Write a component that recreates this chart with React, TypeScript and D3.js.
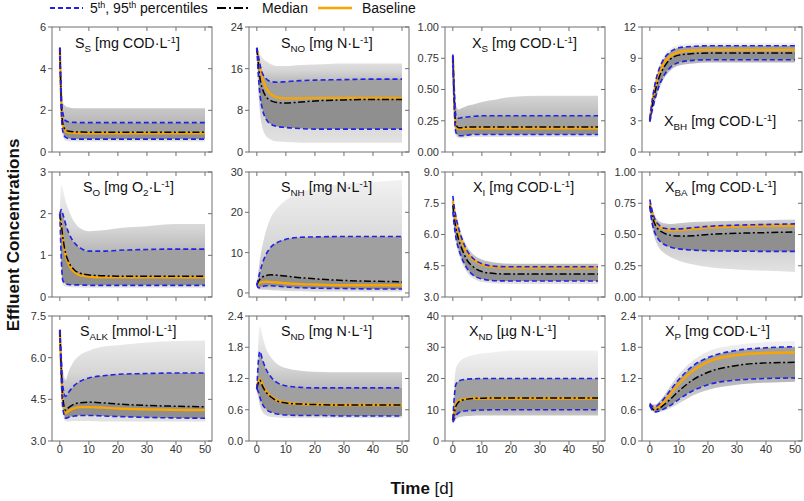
import React from 'react';
import * as d3 from 'd3';

// ---------- DATA ----------
const T = [0, 0.5, 1, 2, 3, 5, 7, 10, 15, 20, 30, 40, 50];
const X_TICKS = [0, 10, 20, 30, 40, 50];

// S_S
const SS_p95 = [5, 2.8, 1.9, 1.5, 1.45, 1.42, 1.41, 1.41, 1.41, 1.41, 1.41, 1.41, 1.41];
const SS_p5 = [5, 2.0, 1.0, 0.7, 0.65, 0.62, 0.62, 0.62, 0.62, 0.62, 0.62, 0.62, 0.62];
const SS_med = [5, 2.4, 1.4, 1.05, 1.0, 0.97, 0.96, 0.95, 0.95, 0.95, 0.95, 0.95, 0.95];
const SS_base = [5, 2.3, 1.3, 1.0, 0.95, 0.92, 0.9, 0.9, 0.9, 0.9, 0.9, 0.9, 0.9];
const SS_hi = [5, 3.2, 2.4, 2.2, 2.15, 2.1, 2.1, 2.1, 2.1, 2.1, 2.1, 2.1, 2.1];
const SS_lo = [5, 1.8, 0.8, 0.55, 0.52, 0.5, 0.5, 0.5, 0.5, 0.5, 0.5, 0.5, 0.5];

// S_NO
const SNO_p95 = [20, 18.5, 17, 15, 14.2, 13.5, 13.4, 13.5, 13.7, 13.8, 13.9, 14.0, 14.0];
const SNO_p5 = [20, 15, 11.5, 8, 6.5, 5.3, 4.9, 4.7, 4.5, 4.4, 4.4, 4.4, 4.4];
const SNO_med = [20, 17, 14.5, 12, 10.8, 9.8, 9.5, 9.4, 9.6, 9.8, 10.0, 10.1, 10.1];
const SNO_base = [20, 18, 16.5, 14, 12.5, 11, 10.5, 10.3, 10.3, 10.4, 10.4, 10.4, 10.4];
const SNO_hi = [20, 19.5, 19, 18, 17.5, 16.8, 16.5, 16.5, 16.7, 16.8, 17, 17, 17];
const SNO_lo = [20, 12, 8, 4.5, 3.2, 2.3, 2, 1.9, 1.8, 1.8, 1.8, 1.8, 1.8];

// X_S
const XS_p95 = [0.78, 0.5, 0.3, 0.27, 0.275, 0.28, 0.285, 0.29, 0.29, 0.29, 0.29, 0.29, 0.29];
const XS_p5 = [0.76, 0.35, 0.16, 0.13, 0.13, 0.135, 0.14, 0.14, 0.14, 0.14, 0.14, 0.14, 0.14];
const XS_med = [0.77, 0.42, 0.22, 0.195, 0.195, 0.2, 0.2, 0.2, 0.2, 0.2, 0.2, 0.2, 0.2];
const XS_base = [0.77, 0.4, 0.2, 0.185, 0.185, 0.19, 0.19, 0.19, 0.19, 0.19, 0.19, 0.19, 0.19];
const XS_hi = [0.8, 0.55, 0.38, 0.34, 0.35, 0.37, 0.38, 0.4, 0.42, 0.44, 0.45, 0.45, 0.45];
const XS_lo = [0.74, 0.3, 0.13, 0.11, 0.11, 0.115, 0.12, 0.12, 0.12, 0.12, 0.12, 0.12, 0.12];

// X_BH
const XBH_p95 = [3.2, 4.3, 5.3, 6.8, 7.8, 9.0, 9.6, 10.0, 10.15, 10.2, 10.2, 10.2, 10.2];
const XBH_p5 = [2.9, 3.6, 4.2, 5.3, 6.2, 7.4, 8.1, 8.6, 8.8, 8.85, 8.86, 8.86, 8.86];
const XBH_med = [3, 3.9, 4.7, 6.0, 7.0, 8.2, 8.9, 9.3, 9.45, 9.5, 9.5, 9.5, 9.5];
const XBH_base = [3, 4.1, 5.0, 6.4, 7.4, 8.6, 9.2, 9.6, 9.75, 9.8, 9.8, 9.8, 9.8];
const XBH_hi = [3.3, 4.5, 5.6, 7.1, 8.1, 9.3, 9.9, 10.3, 10.45, 10.5, 10.5, 10.5, 10.5];
const XBH_lo = [2.8, 3.4, 4.0, 5.0, 5.9, 7.1, 7.8, 8.3, 8.5, 8.6, 8.6, 8.6, 8.6];

// S_O
const SO_p95 = [2.0, 2.1, 2.0, 1.75, 1.55, 1.3, 1.18, 1.1, 1.1, 1.12, 1.14, 1.15, 1.15];
const SO_p5 = [2.0, 0.9, 0.4, 0.32, 0.3, 0.29, 0.29, 0.28, 0.28, 0.28, 0.28, 0.28, 0.28];
const SO_med = [2.0, 1.75, 1.45, 1.05, 0.85, 0.65, 0.57, 0.53, 0.51, 0.5, 0.5, 0.5, 0.5];
const SO_base = [2.0, 1.7, 1.4, 1.0, 0.8, 0.6, 0.52, 0.49, 0.47, 0.47, 0.47, 0.47, 0.47];
const SO_hi = [2.1, 2.7, 2.6, 2.3, 2.1, 1.8, 1.65, 1.58, 1.6, 1.65, 1.7, 1.75, 1.75];
const SO_lo = [1.9, 0.6, 0.3, 0.25, 0.24, 0.23, 0.23, 0.22, 0.22, 0.22, 0.22, 0.22, 0.22];

// S_NH
const SNH_p95 = [2, 3.5, 5, 7.5, 9.3, 11.5, 12.5, 13.3, 13.8, 13.9, 14.0, 14.0, 14.0];
const SNH_p5 = [2, 1.3, 1.3, 1.6, 1.8, 1.8, 1.7, 1.5, 1.3, 1.2, 1.1, 1.0, 1.0];
const SNH_med = [2, 2.8, 3.4, 4.0, 4.3, 4.5, 4.4, 4.2, 3.8, 3.5, 3.1, 2.9, 2.8];
const SNH_base = [2, 2.3, 2.5, 2.7, 2.8, 2.7, 2.6, 2.4, 2.2, 2.1, 1.9, 1.9, 1.9];
const SNH_hi = [2, 5, 8, 12, 15, 19, 21, 23, 25, 26, 27, 27.5, 28];
const SNH_lo = [2, 1.0, 0.8, 0.8, 0.8, 0.7, 0.6, 0.5, 0.4, 0.3, 0.3, 0.3, 0.3];

// X_I
const XI_p95 = [7.85, 7.3, 6.9, 6.3, 5.85, 5.2, 4.85, 4.6, 4.47, 4.45, 4.45, 4.45, 4.45];
const XI_p5 = [7.1, 6.4, 5.9, 5.3, 4.9, 4.35, 4.05, 3.87, 3.78, 3.77, 3.77, 3.77, 3.77];
const XI_med = [7.4, 6.8, 6.35, 5.75, 5.35, 4.75, 4.45, 4.22, 4.12, 4.1, 4.1, 4.1, 4.1];
const XI_base = [7.6, 7.1, 6.7, 6.1, 5.7, 5.1, 4.8, 4.55, 4.42, 4.4, 4.4, 4.4, 4.4];
const XI_hi = [7.95, 7.5, 7.1, 6.5, 6.05, 5.4, 5.05, 4.8, 4.65, 4.6, 4.6, 4.6, 4.6];
const XI_lo = [7.0, 6.2, 5.7, 5.1, 4.7, 4.15, 3.9, 3.72, 3.65, 3.63, 3.63, 3.63, 3.63];

// X_BA
const XBA_p95 = [0.78, 0.72, 0.67, 0.61, 0.58, 0.55, 0.545, 0.545, 0.555, 0.565, 0.575, 0.58, 0.585];
const XBA_p5 = [0.72, 0.63, 0.57, 0.5, 0.46, 0.42, 0.4, 0.385, 0.375, 0.37, 0.367, 0.365, 0.365];
const XBA_med = [0.73, 0.67, 0.63, 0.57, 0.54, 0.51, 0.495, 0.488, 0.49, 0.5, 0.51, 0.515, 0.52];
const XBA_base = [0.75, 0.7, 0.66, 0.6, 0.57, 0.54, 0.535, 0.535, 0.545, 0.555, 0.565, 0.57, 0.57];
const XBA_hi = [0.79, 0.74, 0.7, 0.64, 0.61, 0.59, 0.585, 0.59, 0.6, 0.605, 0.61, 0.615, 0.62];
const XBA_lo = [0.7, 0.6, 0.53, 0.45, 0.4, 0.35, 0.32, 0.29, 0.26, 0.24, 0.22, 0.21, 0.2];

// S_ALK
const SALK_p95 = [7.0, 6.0, 5.0, 4.6, 4.75, 5.0, 5.15, 5.27, 5.35, 5.4, 5.43, 5.45, 5.45];
const SALK_p5 = [7.0, 5.3, 4.2, 3.82, 3.85, 3.9, 3.92, 3.92, 3.9, 3.88, 3.85, 3.83, 3.82];
const SALK_med = [7.0, 5.6, 4.6, 4.1, 4.2, 4.33, 4.38, 4.4, 4.37, 4.33, 4.28, 4.25, 4.23];
const SALK_base = [7.0, 5.5, 4.5, 4.0, 4.08, 4.18, 4.22, 4.22, 4.2, 4.17, 4.14, 4.12, 4.11];
const SALK_hi = [7.05, 6.4, 5.6, 5.2, 5.5, 5.9, 6.1, 6.25, 6.4, 6.45, 6.55, 6.6, 6.62];
const SALK_lo = [6.95, 5.1, 4.0, 3.7, 3.7, 3.72, 3.72, 3.72, 3.7, 3.7, 3.7, 3.7, 3.7];

// S_ND
const SND_p95 = [1.0, 1.5, 1.72, 1.55, 1.4, 1.22, 1.12, 1.06, 1.03, 1.02, 1.02, 1.02, 1.02];
const SND_p5 = [1.0, 0.95, 0.85, 0.7, 0.62, 0.55, 0.52, 0.5, 0.49, 0.49, 0.48, 0.48, 0.48];
const SND_med = [1.0, 1.12, 1.17, 1.05, 0.95, 0.84, 0.77, 0.73, 0.71, 0.7, 0.69, 0.69, 0.69];
const SND_base = [1.0, 1.15, 1.19, 1.07, 0.97, 0.85, 0.78, 0.74, 0.71, 0.7, 0.69, 0.69, 0.69];
const SND_hi = [1.05, 1.9, 2.2, 2.0, 1.8, 1.6, 1.48, 1.4, 1.35, 1.33, 1.32, 1.32, 1.32];
const SND_lo = [0.95, 0.85, 0.7, 0.55, 0.5, 0.46, 0.45, 0.44, 0.44, 0.44, 0.44, 0.44, 0.44];

// X_ND
const XND_p95 = [7, 14, 18, 19.2, 19.5, 19.8, 19.9, 20, 20, 20, 20, 20, 20];
const XND_p5 = [6, 7, 8, 9, 9.4, 9.7, 9.8, 9.9, 10, 10, 10, 10, 10];
const XND_med = [6.5, 9, 11, 12.5, 13, 13.4, 13.6, 13.7, 13.8, 13.8, 13.8, 13.8, 13.8];
const XND_base = [6.5, 9.5, 11.5, 12.8, 13.2, 13.5, 13.6, 13.6, 13.6, 13.6, 13.6, 13.6, 13.6];
const XND_hi = [8, 18, 23, 25, 26, 27, 27.5, 28, 28.5, 29, 29, 29, 29];
const XND_lo = [5.5, 6, 6.8, 7.5, 7.8, 8, 8.1, 8.2, 8.2, 8.2, 8.2, 8.2, 8.2];

// X_P
const XP_p95 = [0.72, 0.68, 0.66, 0.66, 0.7, 0.82, 0.97, 1.18, 1.45, 1.6, 1.74, 1.79, 1.81];
const XP_p5 = [0.68, 0.62, 0.58, 0.56, 0.57, 0.62, 0.68, 0.8, 0.97, 1.08, 1.17, 1.2, 1.21];
const XP_med = [0.7, 0.65, 0.61, 0.6, 0.62, 0.7, 0.8, 0.96, 1.18, 1.32, 1.45, 1.5, 1.51];
const XP_base = [0.7, 0.66, 0.63, 0.62, 0.65, 0.76, 0.9, 1.1, 1.36, 1.52, 1.65, 1.69, 1.7];
const XP_hi = [0.75, 0.72, 0.7, 0.7, 0.75, 0.88, 1.05, 1.28, 1.55, 1.72, 1.85, 1.9, 1.92];
const XP_lo = [0.66, 0.6, 0.56, 0.54, 0.55, 0.58, 0.63, 0.72, 0.88, 0.98, 1.08, 1.12, 1.14];

type Part = [string, 'n' | 'sub' | 'sup'];
const TITLES: Part[][] = [
  [['S', 'n'], ['S', 'sub'], [' [mg COD·L', 'n'], ['-1', 'sup'], [']', 'n']],
  [['S', 'n'], ['NO', 'sub'], [' [mg N·L', 'n'], ['-1', 'sup'], [']', 'n']],
  [['X', 'n'], ['S', 'sub'], [' [mg COD·L', 'n'], ['-1', 'sup'], [']', 'n']],
  [['X', 'n'], ['BH', 'sub'], [' [mg COD·L', 'n'], ['-1', 'sup'], [']', 'n']],
  [['S', 'n'], ['O', 'sub'], [' [mg O', 'n'], ['2', 'sub'], ['·L', 'n'], ['-1', 'sup'], [']', 'n']],
  [['S', 'n'], ['NH', 'sub'], [' [mg N·L', 'n'], ['-1', 'sup'], [']', 'n']],
  [['X', 'n'], ['I', 'sub'], [' [mg COD·L', 'n'], ['-1', 'sup'], [']', 'n']],
  [['X', 'n'], ['BA', 'sub'], [' [mg COD·L', 'n'], ['-1', 'sup'], [']', 'n']],
  [['S', 'n'], ['ALK', 'sub'], [' [mmol·L', 'n'], ['-1', 'sup'], [']', 'n']],
  [['S', 'n'], ['ND', 'sub'], [' [mg N·L', 'n'], ['-1', 'sup'], [']', 'n']],
  [['X', 'n'], ['ND', 'sub'], [' [µg N·L', 'n'], ['-1', 'sup'], [']', 'n']],
  [['X', 'n'], ['P', 'sub'], [' [mg COD·L', 'n'], ['-1', 'sup'], [']', 'n']],
];

const Y_DOMAINS: [number, number][] = [
  [0, 6], [0, 24], [0, 1], [0, 12],
  [0, 3], [-1, 30], [3, 9], [0, 1],
  [3, 7.5], [0, 2.4], [0, 40], [0, 2.4],
];
const Y_TICKS: number[][] = [
  [0, 2, 4, 6], [0, 8, 16, 24], [0, 0.25, 0.5, 0.75, 1], [0, 3, 6, 9, 12],
  [0, 1, 2, 3], [0, 10, 20, 30], [3, 4.5, 6, 7.5, 9], [0, 0.25, 0.5, 0.75, 1],
  [3, 4.5, 6, 7.5], [0, 0.6, 1.2, 1.8, 2.4], [0, 10, 20, 30, 40], [0, 0.6, 1.2, 1.8, 2.4],
];
const Y_FMT = ['d', 'd', '.2f', 'd', 'd', 'd', '.1f', '.2f', '.1f', '.1f', 'd', '.1f'];

const SERIES = [
  { p95: SS_p95, p5: SS_p5, med: SS_med, base: SS_base, hi: SS_hi, lo: SS_lo },
  { p95: SNO_p95, p5: SNO_p5, med: SNO_med, base: SNO_base, hi: SNO_hi, lo: SNO_lo },
  { p95: XS_p95, p5: XS_p5, med: XS_med, base: XS_base, hi: XS_hi, lo: XS_lo },
  { p95: XBH_p95, p5: XBH_p5, med: XBH_med, base: XBH_base, hi: XBH_hi, lo: XBH_lo },
  { p95: SO_p95, p5: SO_p5, med: SO_med, base: SO_base, hi: SO_hi, lo: SO_lo },
  { p95: SNH_p95, p5: SNH_p5, med: SNH_med, base: SNH_base, hi: SNH_hi, lo: SNH_lo },
  { p95: XI_p95, p5: XI_p5, med: XI_med, base: XI_base, hi: XI_hi, lo: XI_lo },
  { p95: XBA_p95, p5: XBA_p5, med: XBA_med, base: XBA_base, hi: XBA_hi, lo: XBA_lo },
  { p95: SALK_p95, p5: SALK_p5, med: SALK_med, base: SALK_base, hi: SALK_hi, lo: SALK_lo },
  { p95: SND_p95, p5: SND_p5, med: SND_med, base: SND_base, hi: SND_hi, lo: SND_lo },
  { p95: XND_p95, p5: XND_p5, med: XND_med, base: XND_base, hi: XND_hi, lo: XND_lo },
  { p95: XP_p95, p5: XP_p5, med: XP_med, base: XP_base, hi: XP_hi, lo: XP_lo },
];

// ---------- LAYOUT / STYLE ----------
const W = 804, H = 501;
const FONT = "Arial, 'Liberation Sans', Helvetica, sans-serif";
const COL_X = [52, 249, 445, 642];
const ROW_Y = [27, 172, 316];
const PW = 160, PH = 125;
const TITLE_DX = [23, 32, 27, 22, 31, 32, 28, 23, 28, 32, 24, 23];
const TITLE_DY = [21, 21, 21, 99, 20, 20, 20, 20, 20, 20, 20, 20];
const BLUE = '#2222e6';
const ORANGE = '#f9a602';
const FRAME = '#707070';

function Title({ parts, x, y }: { parts: Part[]; x: number; y: number }) {
  let shift = 0;
  const spans = parts.map(([txt, kind], i) => {
    const target = kind === 'sub' ? 3.5 : kind === 'sup' ? -5 : 0;
    const dy = target - shift;
    shift = target;
    const fs = kind === 'n' ? 14.3 : 9.8;
    return (
      <tspan key={i} dy={dy} fontSize={fs}>
        {txt}
      </tspan>
    );
  });
  return (
    <text x={x} y={y} fontFamily={FONT} fill="#111">
      {spans}
    </text>
  );
}

function Panel({ idx }: { idx: number }) {
  const col = idx % 4;
  const row = Math.floor(idx / 4);
  const left = COL_X[col];
  const top = ROW_Y[row];
  const s = SERIES[idx];
  const x = d3.scaleLinear().domain([-2.7, 52.4]).range([left, left + PW]);
  const y = d3.scaleLinear().domain(Y_DOMAINS[idx]).range([top + PH, top]);
  const fmt = Y_FMT[idx] === 'd' ? d3.format('d') : d3.format(Y_FMT[idx]);

  const band = (lo: number[], hi: number[]) =>
    d3
      .area<number>()
      .x((_, i) => x(T[i]))
      .y0((_, i) => y(lo[i]))
      .y1((_, i) => y(hi[i]))
      .curve(d3.curveMonotoneX)(T) as string;
  const line = (v: number[]) =>
    d3
      .line<number>()
      .x((_, i) => x(T[i]))
      .y((_, i) => y(v[i]))
      .curve(d3.curveMonotoneX)(T) as string;

  const clipId = `clip${idx}`;
  const bottom = top + PH;
  return (
    <g>
      <defs>
        <clipPath id={clipId}>
          <rect x={left} y={top} width={PW} height={PH} />
        </clipPath>
      </defs>
      <g clipPath={`url(#${clipId})`}>
        <path d={band(s.p95, s.hi)} fill="url(#fadeUp)" />
        <path d={band(s.lo, s.p5)} fill="url(#fadeDown)" />
        <path d={band(s.p5, s.p95)} fill="#a0a0a0" />
        <path d={band(s.p5, s.med)} fill="#000" opacity={0.1} />
        <path d={line(s.base)} fill="none" stroke={ORANGE} strokeWidth={2.4} />
        <path d={line(s.med)} fill="none" stroke="#000" strokeWidth={1.5} strokeDasharray="7,2.5,2,2.5" />
        <path d={line(s.p95)} fill="none" stroke={BLUE} strokeWidth={1.6} strokeDasharray="5,3" />
        <path d={line(s.p5)} fill="none" stroke={BLUE} strokeWidth={1.6} strokeDasharray="5,3" />
      </g>
      <rect x={left} y={top} width={PW} height={PH} fill="none" stroke={FRAME} strokeWidth={1} />
      {Y_TICKS[idx].map((t) => (
        <g key={`y${t}`}>
          <line x1={left - 4} x2={left} y1={y(t)} y2={y(t)} stroke={FRAME} />
          <line x1={left + PW - 4} x2={left + PW} y1={y(t)} y2={y(t)} stroke={FRAME} />
          <text
            x={left - 6}
            y={y(t)}
            dy="0.36em"
            textAnchor="end"
            fontSize={11}
            fontFamily={FONT}
            fill="#333"
          >
            {fmt(t)}
          </text>
        </g>
      ))}
      {X_TICKS.map((t) => (
        <g key={`x${t}`}>
          <line x1={x(t)} x2={x(t)} y1={bottom} y2={bottom + 4} stroke={FRAME} />
          <line x1={x(t)} x2={x(t)} y1={top} y2={top + 4} stroke={FRAME} />
          {row === 2 && (
            <text
              x={x(t)}
              y={bottom + 12}
              textAnchor="middle"
              fontSize={11}
              fontFamily={FONT}
              fill="#333"
            >
              {t}
            </text>
          )}
        </g>
      ))}
      <Title parts={TITLES[idx]} x={left + TITLE_DX[idx]} y={top + TITLE_DY[idx]} />
    </g>
  );
}

function Legend() {
  const ly = 8;
  return (
    <g fontFamily={FONT} fontSize={14} fill="#111">
      <line x1={50} x2={83} y1={ly} y2={ly} stroke={BLUE} strokeWidth={1.8} strokeDasharray="5,3" />
      <text x={90} y={ly + 5}>
        <tspan>5</tspan>
        <tspan fontSize={9} dy={-5}>th</tspan>
        <tspan dy={5}>, 95</tspan>
        <tspan fontSize={9} dy={-5}>th</tspan>
        <tspan dy={5}> percentiles</tspan>
      </text>
      <line x1={217} x2={250} y1={ly} y2={ly} stroke="#000" strokeWidth={1.8} strokeDasharray="9,3,2,3" />
      <text x={262} y={ly + 5}>Median</text>
      <line x1={318} x2={352} y1={ly} y2={ly} stroke={ORANGE} strokeWidth={2.6} />
      <text x={362} y={ly + 5}>Baseline</text>
    </g>
  );
}

export default function App() {
  return (
    <svg
      width={W}
      height={H}
      viewBox={`0 0 ${W} ${H}`}
      style={{ position: 'absolute', left: 0, top: 0, background: '#fff' }}
    >
      <defs>
        <linearGradient id="fadeUp" x1="0" y1="1" x2="0" y2="0">
          <stop offset="0" stopColor="#b8b8b8" />
          <stop offset="0.35" stopColor="#d6d6d6" />
          <stop offset="1" stopColor="#f1f1f1" />
        </linearGradient>
        <linearGradient id="fadeDown" x1="0" y1="0" x2="0" y2="1">
          <stop offset="0" stopColor="#b4b4b4" />
          <stop offset="1" stopColor="#e2e2e2" />
        </linearGradient>
      </defs>
      <rect x={0} y={0} width={W} height={H} fill="#fff" />
      <Legend />
      {SERIES.map((_, i) => (
        <Panel key={i} idx={i} />
      ))}
      <text
        transform="translate(19,235) rotate(-90)"
        textAnchor="middle"
        fontFamily={FONT}
        fontSize={17}
        fontWeight="bold"
        fill="#111"
      >
        Effluent Concentrations
      </text>
      <text x={422} y={494} textAnchor="middle" fontFamily={FONT} fontSize={17} fill="#111">
        <tspan fontWeight="bold">Time</tspan>
        <tspan> [d]</tspan>
      </text>
    </svg>
  );
}
